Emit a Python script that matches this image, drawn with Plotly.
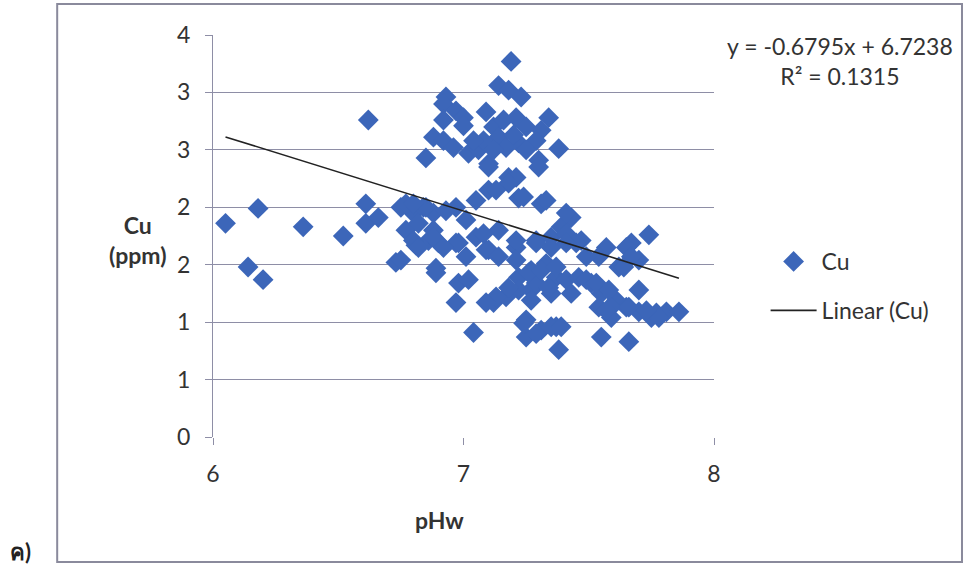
import plotly.graph_objects as go

# ---- data ----
ph = [6.05, 6.18, 6.14, 6.20, 6.36, 6.52, 6.61, 6.61, 6.66, 6.62, 6.73, 6.75, 6.80, 6.77, 6.82,
      6.88, 6.81, 6.86, 6.90, 6.93, 6.89, 6.80, 6.84, 6.77, 6.75, 6.88,
      7.19, 7.14, 7.18, 7.23, 6.93, 6.92, 6.97, 7.00, 7.00, 6.88, 6.92, 6.96, 6.85, 7.02, 7.06,
      7.09, 7.12, 7.14, 7.21, 7.25, 7.34, 7.31, 7.29, 7.38, 7.22, 7.17, 7.10, 7.18, 7.30, 7.08,
      7.04, 6.92, 7.10, 7.21, 7.30, 7.16, 7.20, 7.25, 7.12,
      7.18, 7.10, 7.05, 7.22, 7.31, 7.43, 6.85, 6.97, 7.01, 6.88, 6.82, 6.97, 7.05, 7.01, 7.09,
      7.14, 7.21, 7.29, 7.35, 7.39, 7.47, 7.57, 7.54, 7.67, 7.70, 7.74, 7.62, 7.13, 7.24, 7.33,
      7.41, 7.08, 6.98, 6.92, 7.10, 7.21, 7.29, 7.14, 7.21, 7.35, 7.41, 7.45, 7.65, 7.67, 7.64,
      7.41, 7.49, 6.80,
      6.89, 6.98, 7.02, 6.97, 7.12, 7.18, 7.22, 7.27, 7.33, 7.37, 7.27, 7.41, 7.46, 7.51, 7.55,
      7.54, 7.61, 7.65, 7.70, 7.70, 7.77, 7.81, 7.86, 7.75, 7.25, 7.31, 7.37, 7.38, 7.04, 7.55,
      7.66, 7.25, 7.17, 7.22, 7.29, 7.35, 7.49, 7.59, 7.59, 7.24, 7.29, 7.35, 7.53, 7.58, 7.57,
      7.66, 7.78, 7.39, 7.26, 7.31, 7.37, 7.18, 7.13, 7.09, 7.34, 7.43, 7.27, 7.73]
cu = [1.86, 1.99, 1.48, 1.37, 1.83, 1.75, 2.03, 1.86, 1.91, 2.76, 1.52, 2.00, 1.95, 1.80, 1.86,
      1.95, 1.67, 1.71, 1.69, 1.97, 1.47, 1.71, 2.00, 2.03, 1.54, 1.80,
      3.27, 3.06, 3.02, 2.96, 2.96, 2.90, 2.84, 2.78, 2.71, 2.61, 2.58, 2.52, 2.43, 2.47, 2.50,
      2.83, 2.70, 2.61, 2.78, 2.70, 2.78, 2.67, 2.58, 2.51, 2.56, 2.52, 2.38, 2.26, 2.41, 2.58,
      2.58, 2.76, 2.35, 2.26, 2.35, 2.76, 2.63, 2.50, 2.50,
      2.21, 2.15, 2.06, 2.08, 2.03, 1.91, 2.00, 2.00, 1.89, 1.74, 1.65, 1.69, 1.74, 1.57, 1.63,
      1.80, 1.65, 1.71, 1.74, 1.83, 1.71, 1.65, 1.57, 1.69, 1.54, 1.76, 1.48, 2.15, 2.09, 2.06,
      1.95, 1.77, 1.69, 1.65, 1.63, 1.71, 1.69, 1.57, 1.54, 1.65, 1.77, 1.69, 1.65, 1.57, 1.48,
      1.69, 1.57, 2.03,
      1.43, 1.34, 1.37, 1.17, 1.17, 1.25, 1.39, 1.45, 1.51, 1.39, 1.28, 1.37, 1.39, 1.34, 1.25,
      1.13, 1.19, 1.13, 1.28, 1.09, 1.08, 1.09, 1.09, 1.04, 1.02, 0.93, 0.96, 0.76, 0.91, 0.87,
      0.83, 0.87, 1.22, 1.28, 1.34, 1.25, 1.37, 1.13, 1.04, 0.99, 0.90, 0.96, 1.34, 1.28, 1.10,
      1.13, 1.04, 0.96, 1.43, 1.45, 1.48, 1.30, 1.22, 1.17, 1.30, 1.25, 1.19, 1.10]

# trend line as printed on the chart
slope = -0.6795
intercept = 6.7238
r_squared = 0.1315

# axis ticks (Excel shows 0.5 steps rounded to whole numbers)
y_tickvals = [0, 0.5, 1, 1.5, 2, 2.5, 3, 3.5]
y_ticktext = ["0", "1", "1", "2", "2", "3", "3", "4"]
x_tickvals = [6, 7, 8]

x_line = [min(ph), max(ph)]
y_line = [slope * v + intercept for v in x_line]

FONT = "Lato, 'Open Sans', sans-serif"
TXT = "#333333"
GRID = "#8e8ea6"
FS = 23

fig = go.Figure()
fig.add_trace(go.Scatter(
    x=ph, y=cu, mode="markers", name="Cu",
    marker=dict(symbol="diamond", size=16, color="#3c66b9", line=dict(width=0)),
    legendgroup="a",
))
fig.add_trace(go.Scatter(
    x=x_line, y=y_line, mode="lines", name="Linear (Cu)",
    line=dict(color="#222222", width=1.6),
    legendgroup="b",
))

fig.update_layout(
    width=963, height=565,
    margin=dict(l=213, r=249, t=35, b=128),
    paper_bgcolor="white", plot_bgcolor="white",
    font=dict(family=FONT, size=FS, color=TXT),
    showlegend=True,
    legend=dict(x=1.103, y=0.49, xanchor="left", yanchor="top",
                font=dict(size=FS, color=TXT), traceorder="grouped",
                tracegroupgap=16, bgcolor="rgba(0,0,0,0)", itemwidth=46),
    xaxis=dict(range=[6, 8], tickvals=x_tickvals, ticks="outside", ticklen=7,
               tickcolor=GRID, showgrid=False, zeroline=False,
               showline=False, tickfont=dict(size=FS, color=TXT),
               ticklabelstandoff=9),
    yaxis=dict(range=[0, 3.5], tickvals=y_tickvals, ticktext=y_ticktext,
               ticks="outside", ticklen=7, tickcolor=GRID,
               showgrid=True, gridcolor=GRID, gridwidth=1, zeroline=False,
               showline=True, linecolor=GRID, linewidth=1,
               tickfont=dict(size=FS, color=TXT), ticklabelstandoff=10),
)

# chart-area border
fig.add_shape(type="rect", xref="paper", yref="paper",
              x0=-0.311, x1=1.495, y0=-0.311, y1=1.077,
              line=dict(color="#8a8a9c", width=2), fillcolor="rgba(0,0,0,0)", layer="below")

fig.add_annotation(xref="paper", yref="paper", x=-0.150, y=0.49,
                   xanchor="center", yanchor="middle",
                   text="<b>Cu</b><br><b>(ppm)</b>", showarrow=False,
                   font=dict(size=FS, color=TXT), align="center")
fig.add_annotation(xref="paper", yref="paper", x=0.453, y=-0.206,
                   xanchor="center", yanchor="middle",
                   text="<b>pHw</b>", showarrow=False, font=dict(size=FS, color=TXT))
fig.add_annotation(xref="paper", yref="paper", x=1.2515, y=0.935,
                   xanchor="center", yanchor="middle",
                   text=f"y = {slope}x + {intercept}<br>R² = {r_squared}",
                   showarrow=False, font=dict(size=FS, color=TXT), align="center")
fig.add_annotation(xref="paper", yref="paper", x=-0.385, y=-0.286,
                   xanchor="center", yanchor="middle",
                   text="<b>ค)</b>", showarrow=False, font=dict(size=22, color="#222222"))

fig.write_html("out.html")
